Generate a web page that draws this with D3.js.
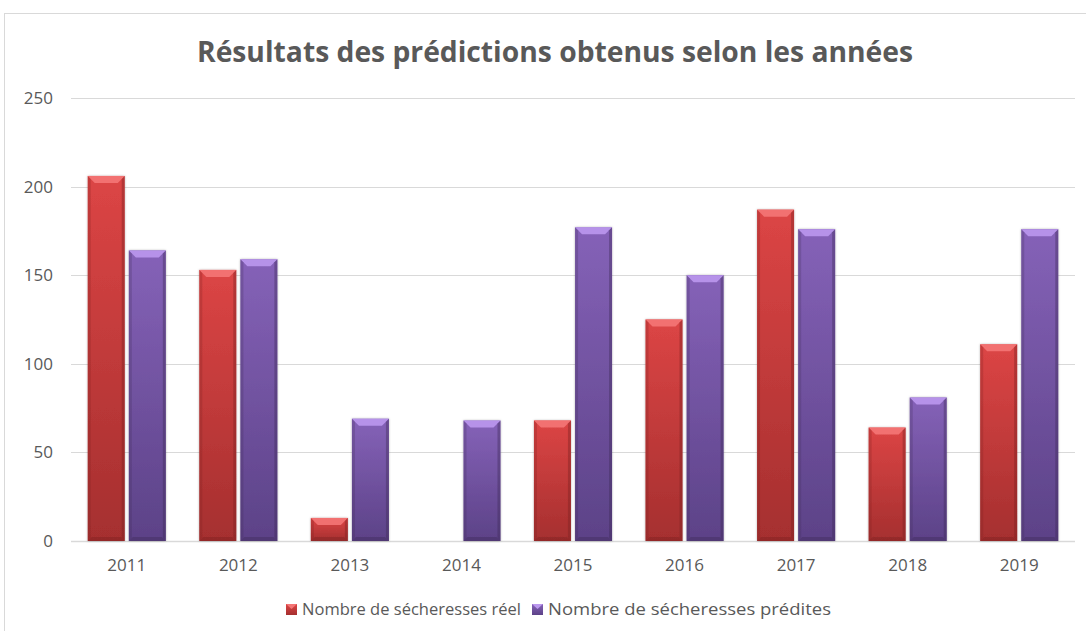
<!DOCTYPE html>
<meta charset="utf-8">
<style>
body { margin: 0; background: #fff; }
text { font-family: "Open Sans", sans-serif; fill: #595959; }
</style>
<body>
<script src="https://cdn.jsdelivr.net/npm/d3@7"></script>
<script>

var years = ["2011", "2012", "2013", "2014", "2015", "2016", "2017", "2018", "2019"];
var reel = [206, 153, 13, 0, 68, 125, 187, 64, 111];
var predites = [164, 159, 69, 68, 177, 150, 176, 81, 176];
var seriesNames = ["Nombre de sécheresses réel", "Nombre de sécheresses prédites"];
var yTicks = [0, 50, 100, 150, 200, 250];

var width = 1086, height = 631;
var margin = {left: 71, right: 11, top: 98, bottom: 90};

var svg = d3.select("body").append("svg")
    .attr("width", width)
    .attr("height", height);

var defs = svg.append("defs");

// bar colours
var palette = [
  {top: "#dc4545", bottom: "#a52f2f", bevel: "#f47575", edge: "#7a2020"},
  {top: "#8562b8", bottom: "#5c4287", bevel: "#bb98ee", edge: "#3e2b58"}
];

palette.forEach(function(c, i) {
  var g = defs.append("linearGradient")
      .attr("id", "grad" + i)
      .attr("x1", 0).attr("y1", 0).attr("x2", 0).attr("y2", 1);
  g.append("stop").attr("offset", "0%").attr("stop-color", c.top);
  g.append("stop").attr("offset", "100%").attr("stop-color", c.bottom);
});

var shadow = defs.append("filter").attr("id", "shadow")
    .attr("x", "-20%").attr("y", "-5%").attr("width", "140%").attr("height", "110%");
shadow.append("feDropShadow")
    .attr("dx", 0).attr("dy", 0).attr("stdDeviation", 1.2)
    .attr("flood-color", "#000").attr("flood-opacity", 0.3);

// chart border
svg.append("rect")
    .attr("x", 4.5).attr("y", 13.5)
    .attr("width", width + 10).attr("height", height + 10)
    .attr("fill", "none")
    .attr("stroke", "#d9d9d9");

var x = d3.scaleBand()
    .domain(years)
    .range([margin.left, width - margin.right])
    .paddingInner(0.3)
    .paddingOuter(0.15);

var y = d3.scaleLinear()
    .domain([0, 250])
    .range([height - margin.bottom, margin.top]);

var inner = d3.scaleBand()
    .domain([0, 1])
    .range([0, x.bandwidth()])
    .paddingInner(0.1);

// gridlines
svg.append("g")
  .selectAll("line")
  .data(yTicks)
  .enter().append("line")
    .attr("x1", margin.left).attr("x2", width - margin.right)
    .attr("y1", function(d) { return Math.round(y(d)) + 0.5; })
    .attr("y2", function(d) { return Math.round(y(d)) + 0.5; })
    .attr("stroke", "#d9d9d9")
    .attr("stroke-width", function(d) { return d === 0 ? 1.5 : 1; });

// y axis labels
svg.append("g")
  .selectAll("text")
  .data(yTicks)
  .enter().append("text")
    .attr("x", 53)
    .attr("y", function(d) { return y(d) + 6; })
    .attr("text-anchor", "end")
    .style("font-size", "17px")
    .text(function(d) { return d; });

// x axis labels
svg.append("g")
  .selectAll("text")
  .data(years)
  .enter().append("text")
    .attr("x", function(d) { return x(d) + x.bandwidth() / 2; })
    .attr("y", 571)
    .attr("text-anchor", "middle")
    .style("font-size", "17px")
    .text(function(d) { return d; });

var data = [];
years.forEach(function(yr, i) {
  data.push({year: yr, s: 0, v: reel[i]});
  data.push({year: yr, s: 1, v: predites[i]});
});

var bars = svg.append("g")
  .selectAll("g")
  .data(data.filter(function(d) { return d.v > 0; }))
  .enter().append("g")
    .attr("transform", function(d) {
      return "translate(" + (x(d.year) + inner(d.s)) + "," + y(d.v) + ")";
    });

var bw = inner.bandwidth();
var bv = 7;

bars.append("rect")
    .attr("width", bw)
    .attr("height", function(d) { return y(0) - y(d.v); })
    .attr("fill", function(d) { return "url(#grad" + d.s + ")"; })
    .attr("filter", "url(#shadow)");

// top bevel
bars.append("path")
    .attr("d", function(d) {
      var b = Math.min(bv, (y(0) - y(d.v)) / 2);
      return "M0,0L" + bw + ",0L" + (bw - b) + "," + b + "L" + b + "," + b + "Z";
    })
    .attr("fill", function(d) { return palette[d.s].bevel; })
    .attr("opacity", 0.9);

// right bevel
bars.append("path")
    .attr("d", function(d) {
      var h = y(0) - y(d.v), b = Math.min(3, h / 2);
      return "M" + bw + ",0L" + bw + "," + h + "L" + (bw - b) + "," + (h - b) + "L" + (bw - b) + "," + b + "Z";
    })
    .attr("fill", function(d) { return palette[d.s].edge; })
    .attr("opacity", 0.4);

// left bevel
bars.append("path")
    .attr("d", function(d) {
      var h = y(0) - y(d.v), b = Math.min(3, h / 2);
      return "M0,0L0," + h + "L" + b + "," + (h - b) + "L" + b + "," + b + "Z";
    })
    .attr("fill", function(d) { return palette[d.s].edge; })
    .attr("opacity", 0.25);

// bottom bevel
bars.append("path")
    .attr("d", function(d) {
      var h = y(0) - y(d.v), b = Math.min(4, h / 2);
      return "M0," + h + "L" + bw + "," + h + "L" + (bw - b) + "," + (h - b) + "L" + b + "," + (h - b) + "Z";
    })
    .attr("fill", function(d) { return palette[d.s].edge; })
    .attr("opacity", 0.4);

// title
svg.append("text")
    .attr("x", 555)
    .attr("y", 62)
    .attr("text-anchor", "middle")
    .style("font-size", "28px")
    .style("font-weight", "bold")
    .attr("textLength", 716)
    .attr("lengthAdjust", "spacingAndGlyphs")
    .text("Résultats des prédictions obtenus selon les années");

// legend
var legendX = [286, 532];
var legendW = [219, 283];
var legend = svg.append("g")
  .selectAll("g")
  .data(seriesNames)
  .enter().append("g")
    .attr("transform", function(d, i) { return "translate(" + legendX[i] + ",604)"; });

legend.append("rect")
    .attr("width", 11).attr("height", 11)
    .attr("fill", function(d, i) { return "url(#grad" + i + ")"; });

legend.append("path")
    .attr("d", "M0,0L11,0L5.5,5Z")
    .attr("fill", function(d, i) { return palette[i].bevel; });

legend.append("text")
    .attr("x", 16)
    .attr("y", 11)
    .style("font-size", "17px")
    .attr("textLength", function(d, i) { return legendW[i]; })
    .attr("lengthAdjust", "spacingAndGlyphs")
    .text(function(d) { return d; });

</script>
